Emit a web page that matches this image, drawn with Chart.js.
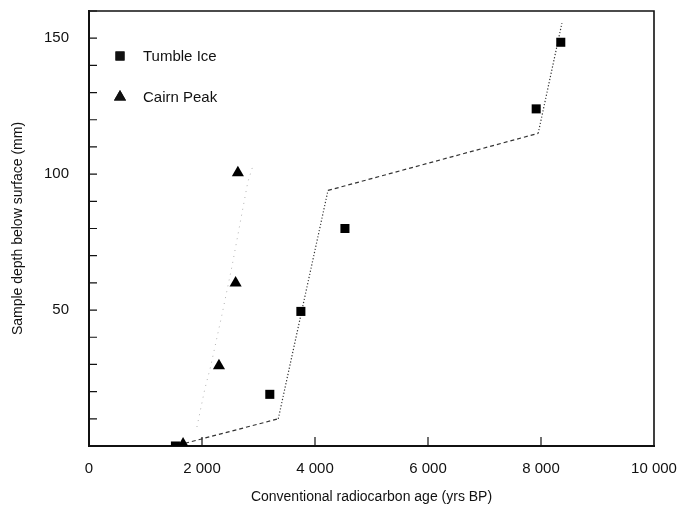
<!DOCTYPE html>
<html>
<head>
<meta charset="utf-8">
<script src="https://cdn.jsdelivr.net/npm/chart.js@4.4.1/dist/chart.umd.min.js"></script>
<style>
  html, body { margin: 0; padding: 0; background: #fff; }
  #wrap { width: 688px; height: 508px; }
</style>
</head>
<body>
<div id="wrap"><canvas id="chart"></canvas></div>
<script>
// measured samples (age in yrs BP, depth in mm)
var tumbleAge = [1530, 3200, 3750, 4530, 7915, 8350];
var tumbleDepth = [0, 19, 49.5, 80, 124, 148.5];
var cairnAge = [1665, 2300, 2595, 2635];
var cairnDepth = [0.7, 29.5, 60, 100.5];

// fitted age-depth lines
var tumbleFitAge = [1700, 3350, 4230, 7950, 8370];
var tumbleFitDepth = [1, 10, 94, 115, 155.5];
var cairnFitAge = [1910, 2050, 2150, 2350, 2530, 2810, 2900];
var cairnFitDepth = [7, 21, 29, 48, 66, 97, 103];

var xTicks = [0, 2000, 4000, 6000, 8000, 10000];
var yTickLabels = [50, 100, 150];

function pts(xs, ys) {
	var out = [];
	for (var i = 0; i < xs.length; i++) out.push({x: xs[i], y: ys[i]});
	return out;
}

var FONT = "'Liberation Sans', Arial, sans-serif";

// inside tick marks, box border and inner legend
var extras = {
	id: 'extras',
	afterDraw: function (chart) {
		var ctx = chart.ctx;
		var a = chart.chartArea;
		var xs = chart.scales.x, ys = chart.scales.y;
		ctx.save();
		ctx.strokeStyle = '#111';
		ctx.lineWidth = 1.2;
		ctx.beginPath();
		ys.ticks.forEach(function (t) {
			if (t.value <= 0) return;
			var py = ys.getPixelForValue(t.value);
			ctx.moveTo(a.left, py);
			ctx.lineTo(a.left + 8, py);
		});
		xs.ticks.forEach(function (t) {
			if (t.value <= 0 || t.value >= 10000) return;
			var px = xs.getPixelForValue(t.value);
			ctx.moveTo(px, a.bottom);
			ctx.lineTo(px, a.bottom - 9);
		});
		ctx.stroke();

		// top and right edges of the box
		ctx.lineWidth = 1.6;
		ctx.beginPath();
		ctx.moveTo(a.left, a.top);
		ctx.lineTo(a.right, a.top);
		ctx.lineTo(a.right, a.bottom);
		ctx.stroke();

		// legend
		ctx.font = '15px ' + FONT;
		ctx.fillStyle = '#111';
		ctx.textBaseline = 'middle';
		var rows = [45, 86];
		chart.data.datasets.forEach(function (ds, i) {
			if (!ds.inLegend) return;
			var y = a.top + rows[i];
			Chart.helpers.drawPoint(ctx, {
				pointStyle: ds.pointStyle,
				radius: ds.pointRadius,
				rotation: 0,
				borderWidth: 0
			}, a.left + 31, y);
			ctx.fillStyle = '#111';
			ctx.fill();
			ctx.fillText(ds.label, a.left + 54, y + 1);
		});
		ctx.restore();
	}
};

new Chart(document.getElementById('chart'), {
	type: 'scatter',
	data: {
		datasets: [{
			label: 'Tumble Ice',
			inLegend: true,
			data: pts(tumbleAge, tumbleDepth),
			pointStyle: 'rect',
			pointRadius: 6.4,
			backgroundColor: '#000',
			borderColor: '#000',
			borderWidth: 0
		}, {
			label: 'Cairn Peak',
			inLegend: true,
			data: pts(cairnAge, cairnDepth),
			pointStyle: 'triangle',
			pointRadius: 7,
			backgroundColor: '#000',
			borderColor: '#000',
			borderWidth: 0
		}, {
			label: 'Tumble Ice fit',
			type: 'line',
			data: pts(tumbleFitAge, tumbleFitDepth),
			showLine: true,
			pointRadius: 0,
			borderColor: '#333',
			borderWidth: 1.2,
			fill: false,
			segment: {
				borderDash: function (c) { return c.p0DataIndex % 2 === 0 ? [4, 3] : [1.2, 2]; }
			}
		}, {
			label: 'Cairn Peak fit',
			type: 'line',
			data: pts(cairnFitAge, cairnFitDepth),
			showLine: true,
			pointRadius: 0,
			borderColor: '#b0b0b0',
			borderWidth: 1,
			borderDash: [1, 5],
			fill: false
		}]
	},
	options: {
		responsive: true,
		maintainAspectRatio: false,
		animation: false,
		layout: { padding: { left: 0, right: 34, top: 11, bottom: 0 } },
		plugins: {
			legend: { display: false },
			tooltip: { enabled: false }
		},
		scales: {
			x: {
				type: 'linear',
				min: 0,
				max: 10000,
				afterFit: function (s) { s.height = 62; s.paddingLeft = 0; s.paddingRight = 0; },
				afterBuildTicks: function (s) {
					s.ticks = xTicks.map(function (v) { return {value: v}; });
				},
				grid: { display: false },
				border: { display: true, color: '#111', width: 2 },
				ticks: {
					color: '#111',
					padding: 6,
					maxRotation: 0,
					font: { family: FONT, size: 15 },
					callback: function (v) {
						return String(v).replace(/\B(?=(\d{3})+(?!\d))/g, ' ');
					}
				},
				title: {
					display: true,
					text: 'Conventional radiocarbon age (yrs BP)',
					color: '#111',
					font: { family: FONT, size: 14 },
					padding: { top: 0, bottom: 2 }
				}
			},
			y: {
				type: 'linear',
				min: 0,
				max: 160,
				afterFit: function (s) { s.width = 89; s.paddingTop = 0; s.paddingBottom = 0; },
				grid: { display: false },
				border: { display: true, color: '#111', width: 2 },
				ticks: {
					stepSize: 10,
					autoSkip: false,
					color: '#111',
					padding: 12,
					font: { family: FONT, size: 15 },
					callback: function (v) {
						return yTickLabels.indexOf(v) >= 0 ? String(v) : '';
					}
				},
				title: {
					display: true,
					text: 'Sample depth below surface (mm)',
					color: '#111',
					font: { family: FONT, size: 14 },
					padding: { top: 10, bottom: 0 }
				}
			}
		}
	},
	plugins: [extras]
});
</script>
</body>
</html>
